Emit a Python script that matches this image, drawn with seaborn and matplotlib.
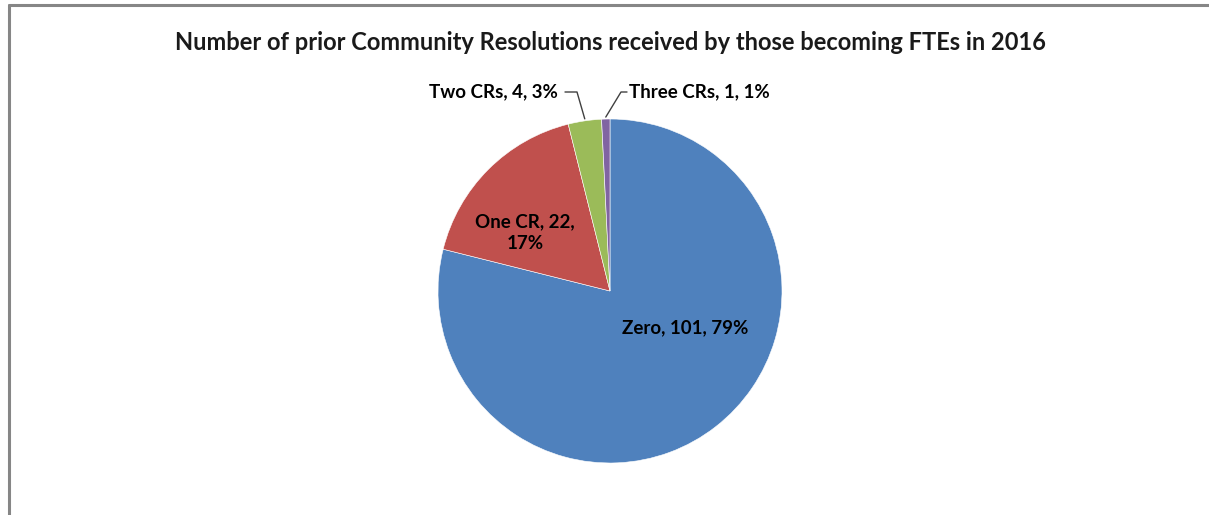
import numpy as np
import matplotlib
matplotlib.use("Agg")
import matplotlib.pyplot as plt
import seaborn as sns
from matplotlib.lines import Line2D

categories = ["Zero", "One CR", "Two CRs", "Three CRs"]
counts = [101, 22, 4, 1]
percents = ["79%", "17%", "3%", "1%"]
colors = ["#4F81BD", "#C0504D", "#9BBB59", "#8064A2"]
title = "Number of prior Community Resolutions received by those becoming FTEs in 2016"

sns.set_theme(style="white")
plt.rcParams["font.family"] = ["Lato", "DejaVu Sans"]

W, H = 1209, 515
fig = plt.figure(figsize=(W / 100, H / 100), dpi=100)
ax = fig.add_axes([0, 0, 1, 1])

cx, cy, R = 610, H - 291, 172
wedges, _ = ax.pie(counts, colors=colors, startangle=90, counterclock=False,
                   center=(cx, cy), radius=R, frame=True,
                   wedgeprops=dict(linewidth=0.4, edgecolor="white"))
ax.set_xlim(0, W)
ax.set_ylim(0, H)
ax.set_aspect("equal")
ax.axis("off")

labels = [f"{c}, {n}, {p}" for c, n, p in zip(categories, counts, percents)]
fs = 13.5

# inside labels
ax.text(cx + 75, cy - 37, labels[0], ha="center", va="center",
        fontsize=fs, fontweight="bold", color="black")
ax.text(cx - 85, cy + 58, "One CR, 22,\n17%", ha="center", va="center",
        fontsize=fs, fontweight="bold", color="black", linespacing=1.35)

# outside labels with leader lines
def mid_point(w):
    th = np.deg2rad((w.theta1 + w.theta2) / 2)
    return cx + R * np.cos(th), cy + R * np.sin(th)

ly = H - 92
x2, y2 = mid_point(wedges[2])
ax.add_line(Line2D([565, 577, x2], [ly, ly, y2 + 2], color="#404040", lw=1))
ax.text(558, ly, labels[2], ha="right", va="center", fontsize=fs,
        fontweight="bold", color="black")
x3, y3 = mid_point(wedges[3])
ax.add_line(Line2D([627, 621, x3], [ly, ly, y3 + 2], color="#404040", lw=1))
ax.text(629, ly, labels[3], ha="left", va="center", fontsize=fs,
        fontweight="bold", color="black")

fig.text(610 / W, 1 - 43 / H, title, ha="center", va="center",
         fontsize=17, fontweight="bold", color="#1a1a1a")

# chart border (left and top visible)
fig.add_artist(Line2D([8.5 / W, 8.5 / W], [0, 1 - 5 / H], transform=fig.transFigure,
                      color="#868686", lw=2.2))
fig.add_artist(Line2D([8.5 / W, 1], [1 - 5 / H, 1 - 5 / H], transform=fig.transFigure,
                      color="#868686", lw=2.2))

fig.savefig("out.png", dpi=100, facecolor="white")
